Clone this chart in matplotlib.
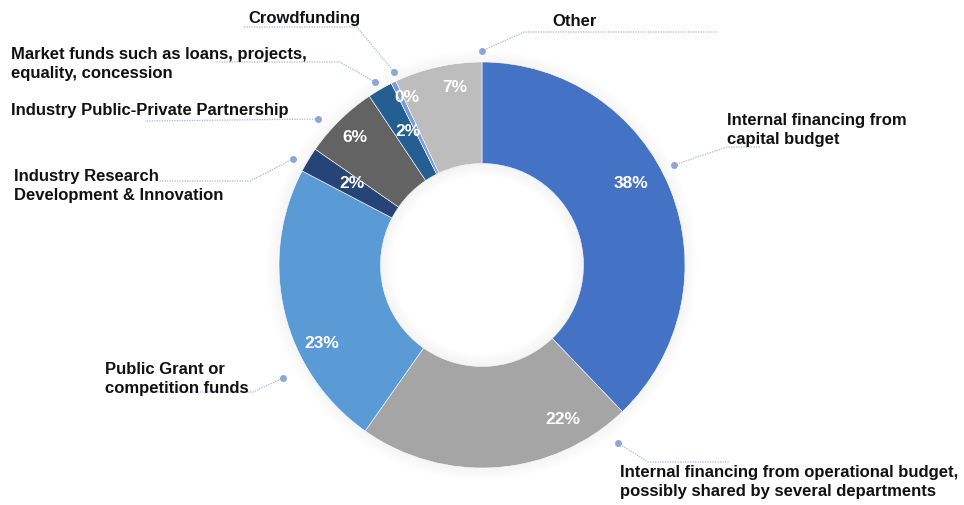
import matplotlib.pyplot as plt
from matplotlib.patches import Wedge

W, H = 964, 505

# funding sources, clockwise from 12 o'clock
sources = [
    "Internal financing from\ncapital budget",
    "Internal financing from operational budget,\npossibly shared by several departments",
    "Public Grant or\ncompetition funds",
    "Industry Research\nDevelopment & Innovation",
    "Industry Public-Private Partnership",
    "Market funds such as loans, projects,\nequality, concession",
    "Crowdfunding",
    "Other",
]
shares = [38, 22, 23, 2, 6, 2, 0.4, 7]
colors = ["#4472C4", "#A5A5A5", "#5B9BD5", "#264478",
          "#636363", "#255E91", "#7A9BD6", "#BDBDBD"]

# layout (pixel coords, y measured from top)
cx, cy, R = 482, 265, 203
ring = 0.5
pct_pos = [(631, 183), (563, 420), (322, 343), (352, 184),
           (355, 137), (408, 132), (407, 98), (455, 87)]
label_pos = [(727, 130), (620, 482), (105, 379), (14, 186),
             (11, 110), (11, 64), (248, 18), (552, 21)]
leaders = [
    [(674, 165), (727, 147), (760, 147)],
    [(618, 443), (648, 462), (730, 462)],
    [(283, 378), (253, 392), (150, 392)],
    [(293, 159), (250, 181), (160, 181)],
    [(318, 119), (145, 121)],
    [(375, 82), (340, 62), (215, 62)],
    [(394, 72), (357, 27), (243, 27)],
    [(482, 51), (524, 32), (718, 32)],
]


def px(x, y):
    return x, H - y


fig = plt.figure(figsize=(W / 100, H / 100), dpi=100)
ax = fig.add_axes([0, 0, 1, 1])

center = px(cx, cy)

# soft shadow around the ring and inside the hole
for i in range(10):
    ax.add_patch(Wedge(center, R + 1 + i * 1.3, 0, 360, width=1.3,
                       facecolor="#000000", alpha=0.04 * (1 - i / 10),
                       linewidth=0, zorder=1))
    ax.add_patch(Wedge(center, R * ring - i * 1.3, 0, 360, width=1.3,
                       facecolor="#000000", alpha=0.045 * (1 - i / 10),
                       linewidth=0, zorder=3))

wedges, _ = ax.pie(shares, colors=colors, startangle=90, counterclock=False,
                   center=center, radius=R,
                   wedgeprops=dict(width=R * ring, edgecolor="white",
                                   linewidth=0.4, zorder=2))

for v, (x, y) in zip(shares, pct_pos):
    ax.text(*px(x, y), f"{v:.0f}%", color="white", fontsize=12.5,
            fontweight="bold", ha="center", va="center",
            family="Liberation Sans", zorder=5)

for txt, (x, y) in zip(sources, label_pos):
    ax.text(*px(x, y), txt, color="#111111", fontsize=12, fontweight="bold",
            ha="left", va="center", linespacing=1.4,
            family="Liberation Sans", zorder=5)

for pts in leaders:
    xs, ys = zip(*[px(x, y) for x, y in pts])
    ax.plot(xs, ys, color="#A9B6CF", linewidth=0.9, linestyle=(0, (1, 1)),
            zorder=4)
    ax.plot(xs[0], ys[0], "o", color="#8FA5D3", markersize=5,
            markeredgewidth=0, zorder=5)

ax.set_xlim(0, W)
ax.set_ylim(0, H)
ax.set_aspect("auto")
ax.axis("off")

fig.savefig("out.png", dpi=100, facecolor="white")
